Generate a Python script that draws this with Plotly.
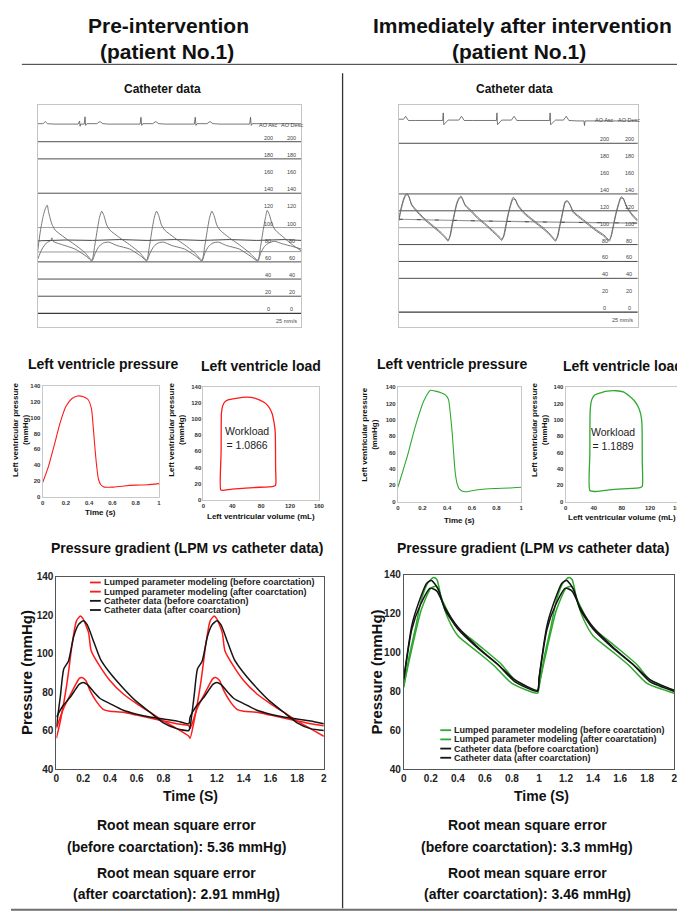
import plotly.graph_objects as go

W, H = 685, 919
FONT = "Liberation Sans, Arial, Helvetica, sans-serif"

def px(x):
    return x / W

def py(y):
    return 1 - y / H

# ---------------- DATA ----------------
# Catheter tracing, pre-intervention (x in beats, y in mmHg)
ECG_L_X = [0.0, 0.1, 0.14, 0.18, 0.3, 0.74, 0.765, 0.775, 0.785, 0.85, 0.865, 0.875, 0.9, 1.08, 1.135, 1.19, 1.3,
           1.87, 1.886, 1.9, 1.92, 2.1, 2.156, 2.21, 2.33, 2.86, 2.877, 2.89, 2.91, 3.09, 3.147, 3.2, 3.33,
           3.87, 3.886, 3.9, 3.92, 4.81]
ECG_L_Y = [221, 221, 223.5, 221, 220.5, 220.5, 224, 218, 220.5, 220.5, 229, 219, 221, 221, 223.5, 221, 220.5,
           220.5, 228.5, 219, 221, 221, 223.5, 221, 220.5, 220.5, 228.5, 219, 221, 221, 223.5, 221, 220.5,
           220.5, 228.5, 219, 221, 221]
CATH_L_ASC_X = [0.0, 0.05, 0.1, 0.14, 0.175, 0.2, 0.26, 0.32, 0.5, 0.68, 0.86, 0.99, 1.04, 1.09, 1.13, 1.17, 1.21,
                1.26, 1.32, 1.5, 1.68, 1.86, 1.99, 2.04, 2.09, 2.13, 2.17, 2.21, 2.26, 2.32, 2.5, 2.68, 2.86, 3.0,
                3.05, 3.1, 3.14, 3.18, 3.22, 3.27, 3.33, 3.5, 3.68, 3.86, 4.02, 4.07, 4.12, 4.16, 4.19, 4.23, 4.28,
                4.34, 4.5, 4.65, 4.81]
CATH_L_ASC_Y = [72, 96, 113, 122, 126, 118, 104, 97, 88, 80, 71, 62, 78, 98, 112, 119, 114, 103, 97, 88, 80, 71,
                62, 78, 98, 112, 119, 114, 103, 97, 88, 80, 71, 62, 78, 98, 112, 119, 114, 103, 97, 88, 80, 71, 62,
                78, 98, 112, 120, 115, 104, 97, 88, 80, 73]
CATH_L_DESC_X = [0.0, 0.08, 0.16, 0.24, 0.26, 0.28, 0.45, 0.68, 0.9, 0.99, 1.05, 1.12, 1.2, 1.3, 1.45, 1.68, 1.9,
                 1.99, 2.05, 2.12, 2.2, 2.3, 2.45, 2.68, 2.9, 3.0, 3.05, 3.12, 3.2, 3.3, 3.45, 3.68, 3.9, 4.02, 4.07,
                 4.14, 4.22, 4.32, 4.47, 4.65, 4.81]
CATH_L_DESC_Y = [63, 75, 82, 85, 88, 84, 80, 75, 66, 61, 70, 78, 82, 83, 79, 75, 66, 61, 70, 78, 82, 83, 79, 75,
                 66, 61, 70, 78, 82, 83, 79, 75, 66, 61, 70, 78, 82, 84, 81, 78, 75]
MEAN_L_ASC_X = [0, 0.5, 1, 1.5, 2, 2.5, 3, 3.5, 4, 4.5, 4.81]
MEAN_L_ASC_Y = [84.5, 85.5, 85, 86, 85, 86, 85, 86, 85, 86, 85]
MEAN_L_DESC_X = [0, 4.81]
MEAN_L_DESC_Y = [71.5, 72]
GRID_L_DARK = [200, 180, 140, 60, 40, 20, 0]
GRID_L_GRAY = [100]

# Catheter tracing, immediately after intervention
ECG_R_X = [0.083, 0.17, 0.21, 0.26, 0.4, 0.9, 0.91, 0.92, 1.0, 1.2, 1.25, 1.3, 1.45, 1.9, 1.91, 1.92, 2.0, 2.18,
           2.23, 2.28, 2.45, 2.89, 2.9, 2.91, 3.0, 3.15, 3.2, 3.25, 3.4, 3.53, 3.54, 3.55, 4.53]
ECG_R_Y = [228.5, 228.5, 232, 227, 227, 227, 236, 222, 227.5, 227.5, 232, 227, 227, 227, 236, 222, 227.5, 227.5,
           232, 227, 227, 227, 236, 222, 227.5, 227.5, 232, 227, 226.5, 226.5, 221, 226.5, 226.5]
CATH_R_X = [0.083, 0.12, 0.17, 0.21, 0.24, 0.27, 0.32, 0.39, 0.55, 0.7, 0.85, 0.945, 1.0, 1.04, 1.08, 1.12, 1.16,
            1.2, 1.24, 1.27, 1.32, 1.43, 1.55, 1.68, 1.8, 1.92, 2.0, 2.04, 2.08, 2.12, 2.16, 2.21, 2.25, 2.3, 2.41,
            2.6, 2.78, 2.9, 3.0, 3.04, 3.08, 3.12, 3.15, 3.18, 3.22, 3.27, 3.33, 3.5, 3.76, 3.9, 4.0, 4.04, 4.08,
            4.12, 4.17, 4.22, 4.26, 4.32, 4.42, 4.53]
CATH_R_ASC_Y = [110, 122, 134, 139.5, 140.5, 137, 127, 121, 110, 102, 94, 88, 84, 92, 106, 118, 129, 135, 137.5,
                134, 126, 119, 111, 104, 97, 90, 85, 92, 105, 117, 127, 136, 134, 126, 117, 107, 98, 91, 84, 91,
                103, 115, 124, 131, 132, 127, 118, 109, 96, 90, 84, 92, 104, 116, 128, 136.5, 135, 125, 115, 107.5]
CATH_R_DESC_Y = [108, 120, 132, 138, 139, 136.5, 128, 122.5, 111.5, 103.5, 95.5, 89.5, 85.5, 90, 103, 116, 127,
                 133.5, 136, 133.5, 127, 120.5, 112.5, 105.5, 98.5, 91.5, 86.5, 90, 102, 115, 125, 134, 133, 127,
                 118.5, 108.5, 99.5, 92.5, 85.5, 89, 101, 113, 122, 129.5, 131, 127.5, 119.5, 110.5, 97.5, 91.5,
                 85.5, 90, 102, 114, 126, 135, 134.5, 126, 116.5, 109]
MEAN_R_X = [0.083, 1, 2, 3, 4, 4.53]
MEAN_R_Y = [110, 108.5, 107.5, 106.5, 106, 105.5]
GRID_R_DARK = [200, 140, 120, 80, 60, 40, 0]
GRID_R_GRAY = [100]
CATH_LABELS = [200, 180, 160, 140, 120, 100, 80, 60, 40, 20, 0]

# Left ventricle pressure (time s, mmHg)
LVP_PRE_T = [0, 0.05, 0.1, 0.15, 0.2, 0.25, 0.3, 0.35, 0.39, 0.42, 0.435, 0.45, 0.465, 0.48, 0.5, 0.53, 0.6, 0.7,
             0.8, 0.9, 1.0]
LVP_PRE_P = [17.5, 38, 65, 93, 114, 124, 127.5, 126.5, 123, 111, 88, 61, 38, 22, 15, 12, 12, 13.5, 14.5, 15, 16.5]
LVP_POST_T = [0, 0.04, 0.08, 0.12, 0.16, 0.21, 0.265, 0.305, 0.35, 0.385, 0.41, 0.425, 0.44, 0.452, 0.464, 0.48,
              0.5, 0.545, 0.65, 0.78, 0.9, 1.0]
LVP_POST_P = [17.5, 37, 57, 80, 101, 123, 136, 135, 133, 130.5, 125, 108, 85, 60, 37, 22, 15, 12, 14.5, 16, 16.5,
              17.5]

# Left ventricle load (PV loop: mL, mmHg)
LVL_PRE_V = [24, 24.5, 25, 26.5, 29, 34, 45, 60, 72, 84, 90, 95, 98, 99.5, 100, 100, 97, 70, 40, 27, 24]
LVL_PRE_P = [12, 60, 108, 116, 121, 124, 126, 127.5, 126, 121, 116, 107.5, 95, 83, 40, 18, 16.5, 15, 13, 11.5, 12]
LVL_POST_V = [34.5, 34.5, 35, 37, 41, 50, 59, 72, 82, 90.5, 98, 104, 107, 108.5, 109, 109, 106, 80, 59, 41, 34.5]
LVL_POST_P = [13.5, 60, 112, 124, 130, 133, 135, 135.5, 134, 129, 123, 114.5, 106, 96, 50, 18.5, 17, 15.5, 14,
              12.3, 13.5]
WORKLOAD_PRE = "1.0866"
WORKLOAD_POST = "1.1889"

# Pressure gradient, pre-intervention (two cardiac cycles)
PRE_LPM_BEFORE_T = [0, 0.03, 0.08, 0.12, 0.15, 0.18, 0.2, 0.24, 0.26, 0.32, 0.4, 0.5, 0.6, 0.7, 0.8, 0.9, 0.99,
                    1.0, 1.03, 1.08, 1.12, 1.15, 1.18, 1.2, 1.24, 1.26, 1.32, 1.4, 1.5, 1.6, 1.7, 1.8, 1.9, 2.0]
PRE_LPM_BEFORE_P = [56, 65, 85, 106, 117, 119.5, 118, 111, 101.5, 94, 86, 79, 74, 69.5, 65, 61, 57,
                    56, 65, 85, 106, 117, 119.5, 118, 111, 101.5, 94, 86, 79, 74, 69.5, 65, 61, 57]
PRE_LPM_AFTER_T = [0, 0.05, 0.1, 0.13, 0.17, 0.19, 0.22, 0.25, 0.3, 0.35, 0.4, 0.5, 0.6, 0.7, 0.8, 0.9, 0.99,
                   1.0, 1.05, 1.1, 1.13, 1.17, 1.19, 1.22, 1.25, 1.3, 1.35, 1.4, 1.5, 1.6, 1.7, 1.8, 1.9, 2.0]
PRE_LPM_AFTER_P = [61, 71, 78, 82, 87, 87.5, 86, 81, 75, 71, 70, 69.5, 68, 66.5, 65, 63.5, 62.5,
                   61, 71, 78, 82, 87, 87.5, 86, 81, 75, 71, 70, 69.5, 68, 66.5, 65, 63.5, 62.5]
PRE_CATH_BEFORE_T = [0, 0.03, 0.055, 0.09, 0.13, 0.165, 0.2, 0.23, 0.28, 0.33, 0.4, 0.5, 0.6, 0.7, 0.8, 0.9, 0.99,
                     1.0, 1.03, 1.055, 1.09, 1.13, 1.165, 1.2, 1.23, 1.28, 1.33, 1.4, 1.5, 1.6, 1.7, 1.8, 1.9, 2.0]
PRE_CATH_BEFORE_P = [62, 78, 92, 96, 109, 115, 117, 115, 106, 97, 90, 82, 75, 69.5, 64, 61, 60,
                     62, 78, 92, 96, 109, 115, 117, 115, 106, 97, 90, 82, 75, 69.5, 64, 61, 60]
PRE_CATH_AFTER_T = [0, 0.05, 0.1, 0.13, 0.17, 0.2, 0.23, 0.28, 0.33, 0.4, 0.5, 0.6, 0.7, 0.8, 0.9, 0.99,
                    1.0, 1.05, 1.1, 1.13, 1.17, 1.2, 1.23, 1.28, 1.33, 1.4, 1.5, 1.6, 1.7, 1.8, 1.9, 2.0]
PRE_CATH_AFTER_P = [67, 73, 77, 80, 84, 85, 84, 80, 76.5, 74, 70.5, 68.5, 67, 66, 65, 63.5,
                    67, 73, 77, 80, 84, 85, 84, 80, 76.5, 74, 70.5, 68.5, 67, 66, 65, 63.5]

# Pressure gradient, immediately after intervention
POST_LPM_BEFORE_T = [0, 0.04, 0.085, 0.13, 0.18, 0.22, 0.245, 0.28, 0.33, 0.4, 0.55, 0.67, 0.8, 0.99,
                     1.0, 1.04, 1.085, 1.13, 1.18, 1.22, 1.245, 1.28, 1.33, 1.4, 1.55, 1.67, 1.8, 2.0]
POST_LPM_BEFORE_P = [82, 98, 112, 127, 136, 138.5, 137.5, 127, 117, 108.5, 100, 93, 84, 79,
                     82, 98, 112, 127, 136, 138.5, 137.5, 127, 117, 108.5, 100, 93, 84, 79]
POST_LPM_AFTER_T = [0, 0.06, 0.13, 0.2, 0.24, 0.29, 0.38, 0.55, 0.72, 0.82, 0.99,
                    1.0, 1.06, 1.13, 1.2, 1.24, 1.29, 1.38, 1.55, 1.72, 1.82, 2.0]
POST_LPM_AFTER_P = [83, 102, 122, 133, 134, 126, 114, 104, 94, 86, 80,
                    83, 102, 122, 133, 134, 126, 114, 104, 94, 86, 80]
POST_CATH_BEFORE_T = [0, 0.06, 0.11, 0.17, 0.205, 0.255, 0.305, 0.4, 0.55, 0.7, 0.82, 0.99,
                      1.0, 1.06, 1.11, 1.17, 1.205, 1.255, 1.305, 1.4, 1.55, 1.7, 1.82, 2.0]
POST_CATH_BEFORE_P = [86.5, 114, 125.5, 135.5, 137, 132.5, 122, 112, 102, 93.5, 86, 80.5,
                      86.5, 114, 125.5, 135.5, 137, 132.5, 122, 112, 102, 93.5, 86, 80.5]
POST_CATH_AFTER_T = [0, 0.06, 0.12, 0.195, 0.245, 0.305, 0.4, 0.55, 0.7, 0.82, 0.99,
                     1.0, 1.06, 1.12, 1.195, 1.245, 1.305, 1.4, 1.55, 1.7, 1.82, 2.0]
POST_CATH_AFTER_P = [86, 112, 124, 133, 131.5, 123, 113, 102.5, 93.5, 85, 80,
                     86, 112, 124, 133, 131.5, 123, 113, 102.5, 93.5, 85, 80]

LEGEND_NAMES = ["Lumped parameter modeling (before coarctation)",
                "Lumped parameter modeling (after coarctation)",
                "Catheter data (before coarctation)",
                "Catheter data (after coarctation)"]
RMSE_PRE = ["5.36", "2.91"]
RMSE_POST = ["3.3", "3.46"]

RED = "#ff1a1a"
GREEN = "#2ea82e"
BLACK = "#151515"
TRACE_GRAY = "#6a6a6a"

# ---------------- FIGURE ----------------
fig = go.Figure()

def line_trace(x, y, xa, ya, color, width=1.2, shape="linear", dash=None):
    fig.add_trace(go.Scatter(x=x, y=y, xaxis=xa, yaxis=ya, mode="lines", showlegend=False,
                             line=dict(color=color, width=width, shape=shape, dash=dash,
                                       smoothing=0.6 if shape == "spline" else None),
                             hoverinfo="skip"))

# catheter left
line_trace(ECG_L_X, ECG_L_Y, "x", "y", "#555", 0.8)
line_trace(MEAN_L_ASC_X, MEAN_L_ASC_Y, "x", "y", "#333", 0.9)
line_trace(MEAN_L_DESC_X, MEAN_L_DESC_Y, "x", "y", "#999", 1.0)
line_trace(CATH_L_ASC_X, CATH_L_ASC_Y, "x", "y", TRACE_GRAY, 0.9, "spline")
line_trace(CATH_L_DESC_X, CATH_L_DESC_Y, "x", "y", TRACE_GRAY, 0.9, "spline")
# catheter right
line_trace(ECG_R_X, ECG_R_Y, "x2", "y2", "#555", 0.8)
line_trace(MEAN_R_X, MEAN_R_Y, "x2", "y2", "#999", 1.2)
line_trace(MEAN_R_X, MEAN_R_Y, "x2", "y2", "#333", 0.8, dash="4px,14px")
line_trace(CATH_R_X, CATH_R_ASC_Y, "x2", "y2", TRACE_GRAY, 0.9, "spline")
line_trace(CATH_R_X, CATH_R_DESC_Y, "x2", "y2", TRACE_GRAY, 0.9, "spline")

# LV plots
line_trace(LVP_PRE_T, LVP_PRE_P, "x3", "y3", RED, 1.1, "spline")
line_trace(LVL_PRE_V, LVL_PRE_P, "x4", "y4", RED, 1.3, "spline")
line_trace(LVP_POST_T, LVP_POST_P, "x5", "y5", GREEN, 1.1, "spline")
line_trace(LVL_POST_V, LVL_POST_P, "x6", "y6", GREEN, 1.3, "spline")

# big plots
pre_series = [(PRE_LPM_BEFORE_T, PRE_LPM_BEFORE_P, RED), (PRE_LPM_AFTER_T, PRE_LPM_AFTER_P, RED),
              (PRE_CATH_BEFORE_T, PRE_CATH_BEFORE_P, BLACK), (PRE_CATH_AFTER_T, PRE_CATH_AFTER_P, BLACK)]
post_series = [(POST_LPM_BEFORE_T, POST_LPM_BEFORE_P, GREEN), (POST_LPM_AFTER_T, POST_LPM_AFTER_P, GREEN),
               (POST_CATH_BEFORE_T, POST_CATH_BEFORE_P, BLACK), (POST_CATH_AFTER_T, POST_CATH_AFTER_P, BLACK)]
for t, p, c in pre_series:
    line_trace(t, p, "x7", "y7", c, 1.5, "spline")
for t, p, c in post_series:
    line_trace(t, p, "x8", "y8", c, 1.5, "spline")

# ---------------- AXES ----------------
def xdom(a, b):
    return [px(a), px(b)]

def ydom(top, bottom):
    return [py(bottom), py(top)]

hidden = dict(showticklabels=False, ticks="", showgrid=False, zeroline=False, showline=True, mirror=True,
              linecolor="#c4c4c4", linewidth=1)
small_tick = dict(family=FONT, size=6, color="#333", weight="bold")
small_ax = dict(showgrid=False, zeroline=False, showline=True, mirror=True, linecolor="#c8c8c8", linewidth=1,
                ticks="", tickfont=small_tick)
big_tick = dict(family=FONT, size=10, color="#222", weight="bold")
big_ax = dict(showgrid=False, zeroline=False, showline=True, mirror=True, linecolor="#555", linewidth=1,
              ticks="", tickfont=big_tick)

layout_axes = dict(
    xaxis=dict(domain=xdom(27, 294), range=[0, 4.81], anchor="y", **hidden),
    yaxis=dict(domain=ydom(92, 317), range=[-15.7, 243], anchor="x", **hidden),
    xaxis2=dict(domain=xdom(393, 635), range=[0.083, 4.53], anchor="y2", **hidden),
    yaxis2=dict(domain=ydom(92, 317), range=[-17.5, 245.6], anchor="x2", **hidden),
    xaxis3=dict(domain=xdom(32, 150), range=[0, 1], dtick=0.2, anchor="y3", **small_ax),
    yaxis3=dict(domain=ydom(377, 489), range=[0, 140], dtick=20, anchor="x3", **small_ax),
    xaxis4=dict(domain=xdom(195, 312), range=[0, 160], dtick=40, anchor="y4", **small_ax),
    yaxis4=dict(domain=ydom(378, 492), range=[0, 140], dtick=20, anchor="x4", **small_ax),
    xaxis5=dict(domain=xdom(392, 517), range=[0, 1], dtick=0.2, anchor="y5", **small_ax),
    yaxis5=dict(domain=ydom(378, 494), range=[0, 140], dtick=20, anchor="x5", **small_ax),
    xaxis6=dict(domain=xdom(562, 676), range=[0, 160], dtick=40, anchor="y6", **small_ax),
    yaxis6=dict(domain=ydom(378, 494), range=[0, 140], dtick=20, anchor="x6", **small_ax),
    xaxis7=dict(domain=xdom(46, 317), range=[0, 2], dtick=0.2, anchor="y7", **big_ax),
    yaxis7=dict(domain=ydom(570, 765), range=[40, 140], dtick=20, anchor="x7", **big_ax),
    xaxis8=dict(domain=xdom(398, 672), range=[0, 2], dtick=0.2, anchor="y8", **big_ax),
    yaxis8=dict(domain=ydom(568, 765), range=[40, 140], dtick=20, anchor="x8", **big_ax),
)

# ---------------- SHAPES ----------------
shapes = []
for v in GRID_L_DARK:
    shapes.append(dict(type="line", xref="x domain", yref="y", x0=0, x1=1, y0=v, y1=v,
                       line=dict(color="#3a3a3a", width=1.2 if v == 0 else 0.9), layer="below"))
for v in GRID_L_GRAY:
    shapes.append(dict(type="line", xref="x domain", yref="y", x0=0, x1=1, y0=v, y1=v,
                       line=dict(color="#a0a0a0", width=1), layer="below"))
for v in GRID_R_DARK:
    shapes.append(dict(type="line", xref="x2 domain", yref="y2", x0=0, x1=1, y0=v, y1=v,
                       line=dict(color="#3a3a3a", width=1.2 if v == 0 else 0.9), layer="below"))
for v in GRID_R_GRAY:
    shapes.append(dict(type="line", xref="x2 domain", yref="y2", x0=0, x1=1, y0=v, y1=v,
                       line=dict(color="#a0a0a0", width=1), layer="below"))

# page separators
shapes.append(dict(type="line", xref="paper", yref="paper", x0=px(11), x1=px(684), y0=py(51), y1=py(51),
                   line=dict(color="#333", width=1)))
shapes.append(dict(type="line", xref="paper", yref="paper", x0=px(336), x1=px(336), y0=py(60), y1=py(906),
                   line=dict(color="#333", width=1.3)))
shapes.append(dict(type="line", xref="paper", yref="paper", x0=0, x1=1, y0=py(907.5), y1=py(907.5),
                   line=dict(color="#6e6e6e", width=2)))

# ---------------- ANNOTATIONS ----------------
ann = []

def text(x, y, s, size, bold=True, color="#111", xanchor="center", angle=0):
    ann.append(dict(xref="paper", yref="paper", x=px(x), y=py(y), text=s, showarrow=False,
                    xanchor=xanchor, yanchor="middle", textangle=angle,
                    font=dict(family=FONT, size=size, color=color, weight="bold" if bold else "normal")))

text(160, 12, "Pre-intervention", 21)
text(158, 38, "(patient No.1)", 21)
text(518, 12, "Immediately after intervention", 21)
text(515, 38, "(patient No.1)", 21)
text(154, 76, "Catheter data", 12)
text(510, 76, "Catheter data", 12)

text(93, 355, "Left ventricle pressure", 14)
text(253, 357, "Left ventricle load", 14)
text(447, 355, "Left ventricle pressure", 14)
text(620, 357, "Left ventricle load", 14)

text(178, 541, "Pressure gradient (LPM <i>vs</i> catheter data)", 14)
text(529, 541, "Pressure gradient (LPM <i>vs</i> catheter data)", 14)

# small axis titles
text(91, 505, "Time (s)", 8)
text(253.5, 509.5, "Left ventricular volume (mL)", 8)
text(454.5, 513, "Time (s)", 8)
text(619, 510.5, "Left ventricular volume (mL)", 8)
text(9.5, 421, "Left ventricular pressure<br>(mmHg)", 8, angle=-90)
text(167.5, 421, "Left ventricular pressure<br>(mmHg)", 8, angle=-90)
text(363, 426, "Left ventricular pressure<br>(mmHg)", 8, angle=-90)
text(535.5, 421, "Left ventricular pressure<br>(mmHg)", 8, angle=-90)

# workload labels
ann.append(dict(xref="x4", yref="y4", x=61, y=76, text="Workload<br>= " + WORKLOAD_PRE, showarrow=False,
                font=dict(family=FONT, size=10.5, color="#222")))
ann.append(dict(xref="x6", yref="y6", x=68, y=77, text="Workload<br>= " + WORKLOAD_POST, showarrow=False,
                font=dict(family=FONT, size=10.5, color="#222")))

# big axis titles
text(15, 667, "Pressure (mmHg)", 15, angle=-90)
text(370, 667, "Pressure (mmHg)", 15, angle=-90)
text(182, 792, "Time (S)", 14)
text(538, 792, "Time (S)", 14)

# RMSE text
text(168, 822, "Root mean square error", 14)
text(168, 844, "(before coarctation): " + RMSE_PRE[0] + " mmHg)", 14)
text(168, 870, "Root mean square error", 14)
text(168, 892, "(after coarctation): " + RMSE_PRE[1] + " mmHg)", 14)
text(523, 822, "Root mean square error", 14)
text(523, 844, "(before coarctation): " + RMSE_POST[0] + " mmHg)", 14)
text(523, 870, "Root mean square error", 14)
text(523, 892, "(after coarctation): " + RMSE_POST[1] + " mmHg)", 14)

# catheter labels
def cath_labels(xref, yref, xl, xr, top_y):
    for v in CATH_LABELS:
        for xx in (xl, xr):
            ann.append(dict(xref=xref, yref=yref, x=xx, y=v, text=str(v), showarrow=False,
                            xanchor="center", yanchor="bottom", yshift=-1,
                            font=dict(family=FONT, size=5.5, color="#444")))
    ann.append(dict(xref=xref, yref=yref, x=xl, y=top_y, text="AO Asc", showarrow=False, xanchor="center",
                    yanchor="middle", font=dict(family=FONT, size=5.5, color="#444")))
    ann.append(dict(xref=xref, yref=yref, x=xr, y=top_y, text="AO Desc", showarrow=False, xanchor="center",
                    yanchor="middle", font=dict(family=FONT, size=5.5, color="#444")))
    ann.append(dict(xref=xref, yref=yref, x=0.99, y=-9, text="25 mm/s", showarrow=False, xanchor="right",
                    yanchor="middle", font=dict(family=FONT, size=5.5, color="#444")))

cath_labels("x domain", "y", 0.875, 0.965, 219)
cath_labels("x2 domain", "y2", 0.862, 0.965, 227)

# manual legends
def legend(colors, x0, rows):
    for name, c, yy in zip(LEGEND_NAMES, colors, rows):
        shapes.append(dict(type="line", xref="paper", yref="paper", x0=px(x0), x1=px(x0 + 11),
                           y0=py(yy), y1=py(yy), line=dict(color=c, width=1.8)))
        ann.append(dict(xref="paper", yref="paper", x=px(x0 + 12), y=py(yy), text=name, showarrow=False,
                        xanchor="left", yanchor="middle",
                        font=dict(family=FONT, size=9, color="#222", weight="bold")))

legend([RED, RED, BLACK, BLACK], 80, [576, 585.3, 594.6, 603.9])
legend([GREEN, GREEN, BLACK, BLACK], 435, [725.7, 735, 744.3, 753.6])

fig.update_layout(
    width=W, height=H, margin=dict(l=0, r=0, t=0, b=0),
    paper_bgcolor="white", plot_bgcolor="white", showlegend=False,
    font=dict(family=FONT, color="#111"),
    shapes=shapes, annotations=ann, **layout_axes
)

fig.write_html("out.html")
